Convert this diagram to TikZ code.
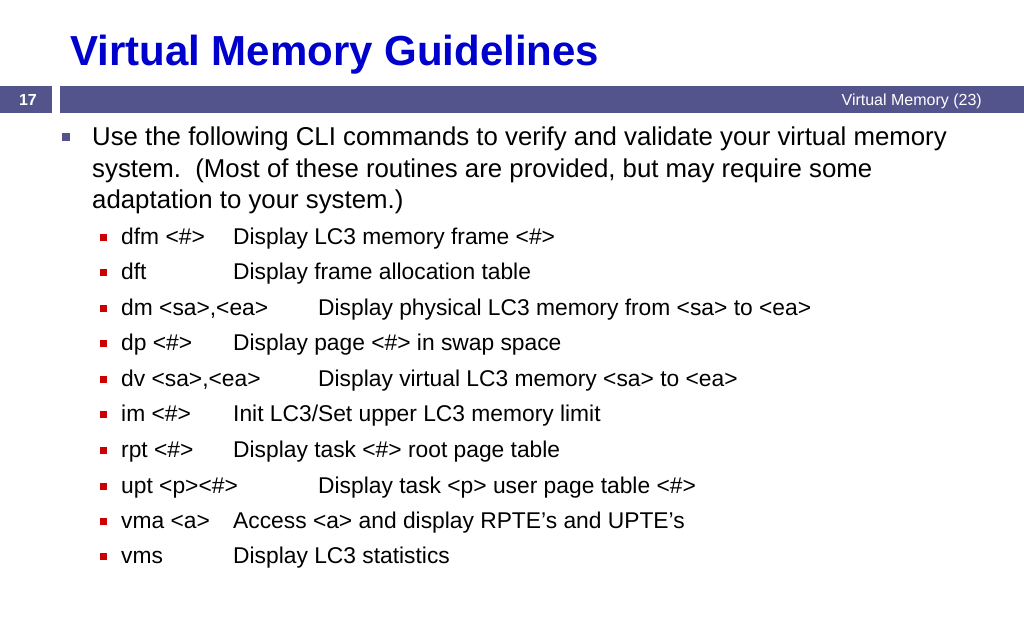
\documentclass[tikz,border=0pt]{standalone}
\usepackage{fontspec}
\setmainfont{Liberation Sans}
\definecolor{barc}{RGB}{84,84,140}
\definecolor{titc}{RGB}{0,0,204}
\definecolor{redb}{RGB}{204,0,0}
\begin{document}
\begin{tikzpicture}[x=1pt,y=-1pt,
  main/.style={anchor=base west,inner sep=0pt,font=\fontsize{25.8}{28}\selectfont},
  sub/.style={anchor=base west,inner sep=0pt,font=\fontsize{22.8}{25}\selectfont},
  rb/.style={fill=redb,minimum size=7pt,inner sep=0pt}]
\useasboundingbox (0,0) rectangle (1024,640);
\node[anchor=base west,inner sep=0pt,text=titc,font=\fontsize{42}{44}\selectfont\bfseries] (title) at (70,65) {Virtual Memory Guidelines};
\fill[barc] (0,86) rectangle (52,113);
\fill[barc] (60,86) rectangle (1024,113);
\node[text=white,font=\fontsize{16}{18}\selectfont\bfseries] (num) at (28,99.5) {17};
\node[anchor=base east,inner sep=0pt,text=white,font=\fontsize{16}{18}\selectfont] (hdr) at (982,105) {Virtual Memory (23)};
\node[fill=barc,minimum size=8pt,inner sep=0pt] (b0) at (66,137) {};
\node[main] (l1) at (92,145) {Use the following CLI commands to verify and validate your virtual memory};
\node[main] (l2) at (92,177) {system.\ \ (Most of these routines are provided, but may require some};
\node[main] (l3) at (92,208) {adaptation to your system.)};
\foreach \y/\c/\x/\d [count=\i] in {
 236/{dfm <\#>}/233/{Display LC3 memory frame <\#>},
 271/{dft}/233/{Display frame allocation table},
 307/{dm <sa>,<ea>}/318/{Display physical LC3 memory from <sa> to <ea>},
 342/{dp <\#>}/233/{Display page <\#> in swap space},
 378/{dv <sa>,<ea>}/318/{Display virtual LC3 memory <sa> to <ea>},
 413/{im <\#>}/233/{Init LC3/Set upper LC3 memory limit},
 449/{rpt <\#>}/233/{Display task <\#> root page table},
 485/{upt <p><\#>}/318/{Display task <p> user page table <\#>},
 520/{vma <a>}/233/{Access <a> and display RPTE’s and UPTE’s},
 555/{vms}/233/{Display LC3 statistics}}{
 \node[rb] (s\i) at (103,\y+1) {};
 \node[sub] (c\i) at (121,\y+8) {\c};
 \node[sub] (d\i) at (\x,\y+8) {\d};
}
\end{tikzpicture}
\end{document}
